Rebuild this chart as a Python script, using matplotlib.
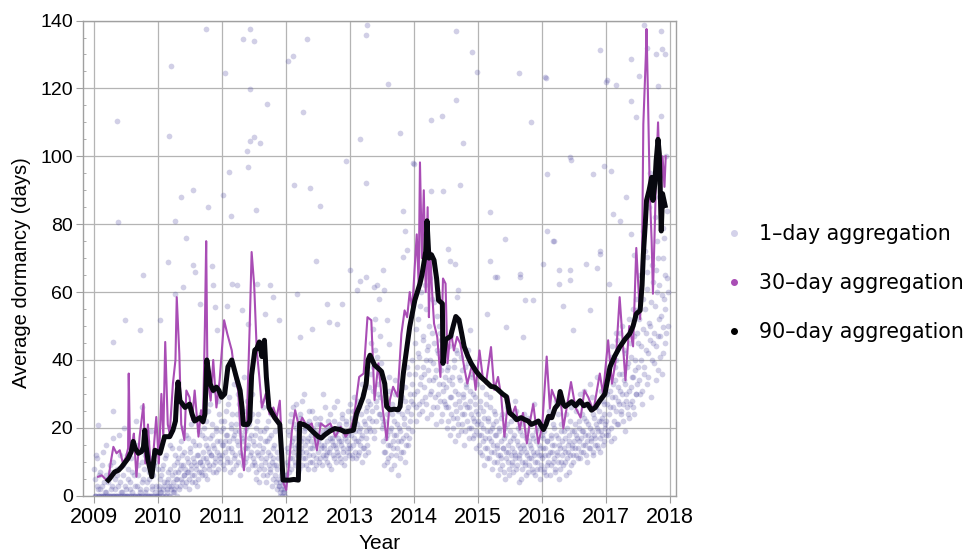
import numpy as np
import matplotlib
matplotlib.use("Agg")
import matplotlib.pyplot as plt
from matplotlib.lines import Line2D
from matplotlib.ticker import MultipleLocator

# 1-day aggregation, one value every ~5 days per calendar year
DAILY_2009 = [8, 0, 12, 3, 0, 6, 0, 2, 0, 9, 0, 4, 0, 15, 1, 0, 5, 0, 7, 0, 3, 0, 10, 0, 2, 0, 6, 0, 18, 0,
              4, 0, 1, 9, 0, 3, 0, 12, 0, 5, 0, 2, 0, 7, 14, 0, 3, 0, 22, 0, 6, 0, 1, 0, 10, 4, 0, 8, 0, 2,
              16, 0, 5, 0, 11, 0, 3, 0, 9, 1, 0, 13, 0]
DAILY_2010 = [0, 3, 1, 6, 0, 2, 9, 4, 0, 12, 1, 5, 3, 0, 8, 2, 14, 4, 1, 7, 3, 10,
              5, 11, 2, 8, 16, 4, 9, 13, 6, 3, 18, 7, 10, 5, 14, 8, 21, 4, 11, 6, 15, 9, 3, 12, 19, 7, 10, 24, 6,
              13, 8, 17, 11, 22, 5, 14, 9, 27, 12, 18, 7, 15, 31, 10, 20, 13, 8, 24, 16, 11, 19]
DAILY_2011 = [12, 20, 8, 16, 25, 10, 18, 14, 29, 7, 21, 13, 17, 33, 11, 19, 9, 24, 15, 27, 6, 18, 12, 22,
              16, 35, 10, 20, 14, 26, 8, 17, 23, 13, 30, 11,
              15, 9, 20, 5, 13, 24, 8, 17, 11, 28, 6, 14, 19, 10, 4, 16, 22, 9, 12, 7, 18, 3, 11, 15, 6, 9, 2, 13, 5,
              3, 1, 6, 0, 4, 2, 1, 5]
DAILY_2012 = [6, 14, 9, 18, 11, 24, 8, 16, 13, 21, 10, 27, 15, 7, 19, 12, 23, 14, 9, 17, 30, 11, 20, 13,
              16, 8, 22, 14, 18, 10, 25, 12, 15, 19, 9, 21,
              13, 17, 11, 23, 15, 9, 19, 14, 26, 12, 16, 10, 20, 13, 24, 8, 17, 15, 22, 11, 18, 14, 28, 12,
              16, 20, 10, 15, 23, 13, 18, 11, 21, 16, 14, 25, 12]
DAILY_2013 = [14, 20, 11, 25, 17, 13, 22, 16, 28, 12, 19, 15, 24, 10, 18, 30, 14, 21, 17, 26, 13, 23,
              32, 19, 45, 25, 38, 17, 52, 28, 22, 41, 30, 58, 24, 35, 20,
              16, 9, 22, 13, 27, 18, 11, 31, 15, 20, 8, 24, 14, 18, 34, 12, 21, 16, 6, 26, 19, 13, 29, 17,
              23, 10, 32, 18, 25, 15, 36, 22, 28, 19, 33]
DAILY_2014 = [30, 45, 22, 38, 52, 27, 41, 33, 60, 25, 47, 36, 29, 55, 40, 23, 44, 34, 64, 31, 48, 26, 39, 57,
              35, 21, 43, 30, 50, 28, 37, 46, 24, 33, 41, 27,
              32, 20, 38, 26, 44, 18, 29, 35, 23, 40, 16, 31, 25, 42, 21, 28, 34, 19, 37, 24, 30, 15, 27, 33,
              22, 39, 17, 26, 31, 20, 36, 23, 18, 29, 14, 25, 21]
DAILY_2015 = [22, 15, 28, 18, 12, 25, 20, 9, 17, 30, 14, 23, 11, 19, 26, 16, 8, 21, 13, 24, 18, 10,
              15, 6, 19, 12, 23, 9, 14, 17, 5, 20, 11, 26, 13, 8, 16, 22, 10, 14, 7, 18, 12, 25, 9, 15, 11, 4,
              19, 13, 8, 21, 14, 10, 17, 6, 12, 23, 9, 15, 11, 18, 7, 13, 27, 10, 16, 8, 20, 12, 5, 14, 9]
DAILY_2016 = [11, 17, 7, 14, 22, 9, 16, 12, 25, 6, 18, 13, 10, 20, 15, 8, 28, 12, 17, 5, 14, 21, 10, 16,
              9, 19, 13, 24, 11, 15, 7, 18, 12, 26, 14, 10,
              16, 21, 12, 18, 27, 14, 20, 11, 17, 24, 13, 19, 31, 15, 22, 10, 18, 26, 14, 20, 16, 29, 12, 23,
              17, 21, 35, 15, 19, 25, 13, 22, 18, 28, 16, 24, 20]
DAILY_2017 = [22, 30, 18, 35, 26, 41, 20, 29, 33, 17, 38, 25, 46, 28, 21, 36, 31, 24, 50, 27, 34, 19, 42, 30,
              26, 39, 23, 45, 32, 28, 55, 35, 24, 40, 30, 48,
              38, 52, 30, 65, 44, 27, 58, 36, 72, 48, 33, 61, 42, 85, 50, 29, 68, 45, 39, 92, 56, 34, 75, 47,
              62, 41, 88, 53, 36, 70, 58, 45, 100, 64, 50]

# second set of daily values, 2.5 days after the first
DAILY_2009B = [0, 5, 0, 11, 2, 0, 7, 0, 3, 0, 13, 0, 1, 6, 0, 4, 0, 9, 0, 2, 0, 17, 0, 5, 0, 8, 0, 3, 0, 12,
               1, 0, 6, 0, 20, 0, 2, 0, 8, 0, 4, 11, 0, 1, 0, 6, 0, 15, 3, 0, 9, 0, 2, 0, 26, 5, 0, 1, 12, 0,
               4, 0, 7, 0, 19, 2, 0, 6, 0, 10, 3, 0, 8]
DAILY_2010B = [2, 0, 5, 1, 8, 0, 3, 11, 0, 4, 2, 7, 0, 15, 3, 6, 1, 9, 2, 12, 5, 0,
               7, 14, 3, 9, 5, 12, 20, 6, 8, 4, 11, 17, 7, 2, 13, 9, 6, 16, 10, 4, 23, 8, 12, 5, 15, 10, 7, 18, 9,
               11, 20, 6, 15, 10, 25, 13, 8, 17, 12, 21, 9, 14, 11, 19, 7, 16, 28, 12, 10, 22, 15]
DAILY_2011B = [15, 9, 22, 13, 18, 11, 27, 16, 10, 20, 14, 24, 8, 18, 12, 21, 16, 30, 10, 19, 13, 23, 17, 9,
               25, 14, 19, 11, 28, 15, 21, 12, 18, 9, 24, 16,
               10, 18, 7, 22, 12, 15, 4, 19, 9, 13, 26, 8, 16, 11, 20, 6, 13, 17, 8, 24, 10, 5, 14, 9, 19, 4,
               8, 11, 3, 0, 4, 2, 7, 1, 3, 0, 6]
DAILY_2012B = [10, 19, 13, 7, 22, 15, 11, 26, 17, 9, 14, 20, 12, 18, 8, 24, 16, 13, 28, 11, 19, 15, 9, 21,
               17, 12, 25, 10, 16, 14, 20, 8, 23, 17, 11, 18,
               16, 10, 21, 14, 18, 12, 30, 15, 11, 19, 13, 22, 9, 17, 14, 20, 16, 12, 26, 15, 10, 19, 13, 17,
               21, 11, 16, 24, 14, 19, 9, 17, 22, 13, 18, 15, 27]
DAILY_2013B = [18, 12, 23, 15, 29, 19, 11, 21, 16, 26, 13, 20, 17, 33, 14, 22, 12, 19, 25, 15, 28, 20,
               27, 36, 22, 49, 31, 19, 43, 26, 62, 33, 24, 47, 29, 39, 23,
               21, 13, 28, 17, 10, 24, 15, 35, 19, 12, 27, 16, 22, 9, 30, 18, 14, 25, 20, 11, 33, 16, 24, 13,
               21, 28, 15, 38, 20, 26, 17, 30, 24, 40, 27]
DAILY_2014B = [36, 26, 49, 31, 42, 24, 56, 35, 28, 46, 38, 32, 62, 27, 43, 37, 50, 30, 40, 24, 58, 34, 45, 29,
               37, 53, 26, 42, 33, 48, 22, 39, 31, 44, 28, 35,
               26, 37, 22, 34, 29, 47, 24, 33, 20, 38, 27, 43, 23, 30, 18, 35, 26, 41, 21, 29, 24, 38, 19, 32,
               26, 43, 20, 28, 24, 35, 17, 30, 22, 27, 19, 33, 24]
DAILY_2015B = [18, 26, 13, 21, 32, 16, 23, 14, 27, 19, 11, 22, 17, 29, 13, 20, 15, 25, 10, 18, 22, 14,
               12, 20, 8, 16, 11, 24, 14, 7, 18, 13, 21, 10, 15, 6, 19, 12, 9, 17, 13, 28, 11, 8, 16, 20, 12,
               14, 5, 18, 10, 15, 24, 9, 13, 19, 7, 16, 11, 21, 14, 8, 17, 12, 6, 19, 13, 10, 22, 15, 8, 12, 18]
DAILY_2016B = [14, 8, 19, 12, 6, 16, 10, 23, 13, 17, 9, 15, 21, 11, 7, 18, 13, 24, 10, 15, 8, 19, 12, 27,
               14, 10, 17, 6, 20, 13, 16, 22, 9, 15, 19, 12,
               19, 14, 25, 17, 11, 22, 16, 30, 13, 19, 15, 23, 18, 12, 27, 16, 21, 14, 33, 17, 19, 13, 24, 18,
               15, 26, 20, 14, 22, 17, 31, 19, 23, 15, 27, 21, 18]
DAILY_2017B = [27, 19, 37, 24, 31, 16, 44, 26, 22, 34, 29, 40, 21, 32, 27, 48, 25, 36, 30, 22, 43, 33, 28, 38,
               24, 52, 31, 27, 41, 35, 26, 47, 37, 30, 58, 33,
               45, 34, 60, 40, 31, 78, 49, 38, 55, 43, 66, 35, 51, 46, 95, 57, 40, 63, 48, 82, 44, 60, 37, 70,
               52, 47, 96, 59, 42, 76, 55, 65, 48, 84, 60]

# scattered high days (year, value)
OUTLIER_X = [2009.06, 2009.3, 2009.35, 2009.38, 2009.48, 2009.71, 2009.77, 2010.17, 2010.2, 2010.26,
             2010.35, 2010.43, 2010.55, 2010.74, 2010.78, 2011.02, 2011.04, 2011.1, 2011.14, 2011.32,
             2011.39, 2011.41, 2011.43, 2011.44, 2011.44, 2011.49, 2011.49, 2011.53, 2011.59, 2011.7,
             2012.03, 2012.1, 2012.12, 2012.26, 2012.32, 2012.37, 2012.53, 2012.93, 2013.15, 2013.25,
             2013.25, 2013.26, 2013.59, 2013.78, 2013.98, 2014.27, 2014.44, 2014.65, 2014.66, 2014.77,
             2014.91, 2014.98, 2015.64, 2015.83, 2016.05, 2016.45, 2016.9, 2017.02, 2017.39, 2017.59,
             2017.87, 2017.92,
             2009.3, 2010.03, 2010.16, 2010.26, 2010.39, 2010.55, 2010.58, 2010.66, 2010.84, 2010.86,
             2010.89, 2010.92, 2011.07, 2011.15, 2011.23, 2011.31, 2011.41, 2011.54, 2011.67, 2011.75,
             2011.88, 2011.8, 2012.17, 2012.22, 2012.4, 2012.46, 2012.64, 2012.67, 2012.8, 2012.87,
             2013.0, 2013.11, 2013.16, 2013.24, 2013.37, 2013.52, 2013.83, 2014.56, 2014.69, 2014.87,
             2015.13, 2015.29, 2015.44, 2015.65, 2015.7, 2015.86, 2016.01, 2016.27, 2016.43, 2016.48,
             2016.69, 2016.74, 2016.9, 2017.05, 2017.16, 2017.47, 2017.63, 2017.78, 2017.89,
             2013.83, 2013.86, 2013.88, 2013.99, 2014.27, 2014.45, 2014.53, 2014.64, 2014.72, 2014.67,
             2015.18, 2015.18, 2015.26, 2015.42, 2015.65, 2015.73, 2016.07, 2016.18, 2016.33, 2013.58,
             2013.6, 2013.53,
             2016.06, 2016.07, 2016.43, 2016.8, 2017.0, 2017.16, 2016.97, 2017.08, 2017.47, 2017.39,
             2017.52, 2017.63, 2017.78, 2017.86, 2017.86, 2017.81, 2017.31, 2017.21, 2017.1, 2016.9,
             2016.85, 2017.39, 2017.44, 2017.83, 2017.89, 2016.17, 2016.27, 2016.43]
OUTLIER_Y = [20.8, 25, 110.3, 80.6, 51.7, 48.7, 65, 106, 126.7, 81,
             88, 76, 90, 137.5, 85, 88.7, 124.6, 95.4, 82.4, 134.6,
             101.5, 96.8, 104.5, 137.5, 119.9, 134, 105.7, 84.3, 103.8, 115.4,
             128, 129.6, 91.4, 113, 134.6, 90.8, 85.4, 98.5, 105, 135.8,
             92, 138.7, 121.3, 107, 97.9, 110.8, 112, 116.5, 136.9, 103.8,
             130.6, 124.8, 124.4, 110, 123.3, 99, 131.2, 122.5, 128.6, 138.6,
             131.6, 130,
             45.3, 51.7, 68.8, 59.5, 61.5, 68, 66, 56.6, 67.8, 62,
             55.6, 48.7, 56, 62.5, 62, 54.6, 50.7, 62.5, 53.6, 62,
             51.7, 58.5, 59.5, 46.8, 49.2, 69.3, 56.6, 51.2, 50.7, 56.6,
             66.4, 60.5, 63.4, 64.4, 61.5, 66.4, 70.3, 69.3, 60.5, 48.7,
             53.6, 64.4, 49.7, 65.4, 46.8, 57.6, 68.4, 62.5, 66.4, 48.7,
             68.4, 54.6, 71.3, 62.5, 47.8, 54.6, 70.3, 66.4, 49.7,
             84, 78, 72.3, 97.7, 89.9, 89.9, 72.8, 68.4, 91.4, 58.5,
             69.3, 83.5, 64.4, 75.7, 64.4, 57.6, 78, 75, 56, 51.7,
             44.8, 60.5,
             123, 94.8, 99.7, 94.8, 122, 121, 97, 95.8, 111.5, 116.4,
             123.7, 132, 130, 137, 112, 120.8, 88, 81, 83, 72,
             67, 77, 71, 88, 79, 75, 66.5, 63.5]

# 30-day aggregation
MONTH_X = [2009.06, 2009.12, 2009.17, 2009.22, 2009.26, 2009.3, 2009.35, 2009.4, 2009.45, 2009.5,
           2009.53, 2009.54, 2009.56, 2009.6, 2009.62, 2009.66, 2009.71, 2009.77, 2009.8, 2009.84,
           2009.89, 2009.92, 2009.97, 2010.01, 2010.05, 2010.08, 2010.11, 2010.15, 2010.18, 2010.23,
           2010.27, 2010.29, 2010.33, 2010.36, 2010.41, 2010.44, 2010.49, 2010.53, 2010.57, 2010.63,
           2010.67, 2010.7, 2010.73, 2010.75, 2010.77, 2010.82, 2010.86, 2010.91, 2010.96, 2011.03,
           2011.08, 2011.15, 2011.2, 2011.25, 2011.3, 2011.34, 2011.39, 2011.43, 2011.46, 2011.5,
           2011.54, 2011.58, 2011.62, 2011.68, 2011.74, 2011.8, 2011.85, 2011.9, 2011.96, 2012.0,
           2012.04, 2012.09, 2012.14, 2012.2, 2012.25, 2012.33, 2012.4, 2012.48, 2012.54, 2012.61,
           2012.69, 2012.77, 2012.85, 2012.93, 2013.0, 2013.06, 2013.14, 2013.21, 2013.27, 2013.33,
           2013.38, 2013.44, 2013.51, 2013.57, 2013.62, 2013.67, 2013.74, 2013.8, 2013.85, 2013.89,
           2013.93, 2013.97, 2014.01, 2014.04, 2014.07, 2014.09, 2014.12, 2014.15, 2014.18, 2014.21,
           2014.23, 2014.25, 2014.28, 2014.31, 2014.36, 2014.41, 2014.45, 2014.49, 2014.52, 2014.57,
           2014.62, 2014.67, 2014.72, 2014.78, 2014.83, 2014.91, 2014.96, 2015.02, 2015.07, 2015.12,
           2015.2, 2015.25, 2015.31, 2015.36, 2015.41, 2015.47, 2015.52, 2015.58, 2015.65, 2015.7,
           2015.76, 2015.81, 2015.86, 2015.91, 2015.94, 2016.0, 2016.07, 2016.12, 2016.15, 2016.23,
           2016.28, 2016.33, 2016.36, 2016.45, 2016.52, 2016.6, 2016.66, 2016.72, 2016.8, 2016.9,
           2016.95, 2017.03, 2017.09, 2017.15, 2017.21, 2017.3, 2017.36, 2017.42, 2017.47, 2017.53,
           2017.56, 2017.58, 2017.6, 2017.62, 2017.63, 2017.65, 2017.68, 2017.71, 2017.73, 2017.76,
           2017.78, 2017.81, 2017.83, 2017.85, 2017.88, 2017.91, 2017.93]
MONTH_Y = [5.6, 6, 5, 4.6, 10, 14.4, 12.5, 13.4, 9.5, 11.5,
           14, 36, 13.4, 16, 18.3, 5.6, 17.4, 27, 9.5, 21,
           6.6, 11.5, 23.2, 9.5, 30, 17.4, 45.3, 21, 18.3, 33,
           40, 58.5, 41.9, 21, 16.4, 31, 29, 22.3, 31, 17.4,
           25.2, 21.3, 50, 75, 35, 28, 40, 26, 34, 51.7,
           47.7, 42.8, 35, 31, 13.4, 7.5, 25.2, 50, 71.8, 62,
           42.8, 35, 26, 30, 24, 26, 23, 28, 3.6, 1.7,
           8.5, 19.3, 25.2, 20.3, 23, 20.3, 21.3, 13.4, 21.3, 20.3,
           21.3, 17.4, 20.3, 17.4, 19.3, 23.2, 35, 36, 52.6, 51.7,
           28.2, 39, 25.3, 16.4, 28.2, 32.1, 29.2, 47.7, 54.6, 52.6,
           60, 55, 68, 77, 62, 98.2, 70, 90, 60, 85,
           52.6, 72, 60, 50.7, 46.8, 35, 64, 62.5, 39, 48.7,
           42.8, 46.8, 44.8, 38, 33, 39, 31.2, 42.8, 35, 33,
           43.8, 31.2, 35, 29.2, 17.4, 29.2, 23.4, 26.3, 19.5, 24.4,
           15.4, 22, 27, 19.5, 15.4, 20.5, 41, 25.7, 31.2, 27.3,
           30.2, 19.8, 23.4, 33.5, 26, 23, 31, 29, 25, 36,
           30, 45.8, 33, 40, 58.5, 34, 50, 44, 73, 52,
           70, 109.5, 120, 130, 137.5, 120, 90, 75, 59.5, 80,
           95, 110, 98, 85, 100, 91, 100]

# 90-day aggregation
QUARTER_X = [2009.22, 2009.24, 2009.32, 2009.38, 2009.43, 2009.53, 2009.58, 2009.61, 2009.64, 2009.69,
             2009.74, 2009.77, 2009.79, 2009.81, 2009.84, 2009.87, 2009.9, 2009.95, 2010.03, 2010.1,
             2010.18, 2010.23, 2010.27, 2010.29, 2010.31, 2010.34, 2010.38, 2010.42, 2010.49, 2010.53,
             2010.57, 2010.65, 2010.7, 2010.73, 2010.76, 2010.79, 2010.81, 2010.86, 2010.91, 2010.95,
             2010.99, 2011.04, 2011.09, 2011.15, 2011.22, 2011.28, 2011.31, 2011.33, 2011.4, 2011.43,
             2011.46, 2011.51, 2011.54, 2011.58, 2011.62, 2011.66, 2011.69, 2011.73, 2011.82, 2011.9,
             2011.93, 2011.95, 2012.05, 2012.12, 2012.19, 2012.21, 2012.27, 2012.34, 2012.42, 2012.5,
             2012.55, 2012.6, 2012.68, 2012.76, 2012.84, 2012.92, 2012.98, 2013.05, 2013.1, 2013.15,
             2013.2, 2013.25, 2013.28, 2013.31, 2013.38, 2013.44, 2013.49, 2013.54, 2013.57, 2013.62,
             2013.69, 2013.75, 2013.78, 2013.83, 2013.88, 2013.93, 2014.01, 2014.05, 2014.09, 2014.12,
             2014.15, 2014.18, 2014.2, 2014.23, 2014.27, 2014.31, 2014.35, 2014.38, 2014.44, 2014.45,
             2014.49, 2014.57, 2014.61, 2014.65, 2014.7, 2014.74, 2014.78, 2014.84, 2014.89, 2014.97,
             2015.04, 2015.1, 2015.2, 2015.26, 2015.31, 2015.38, 2015.44, 2015.49, 2015.55, 2015.6,
             2015.67, 2015.73, 2015.78, 2015.83, 2015.89, 2015.94, 2016.02, 2016.06, 2016.1, 2016.15,
             2016.2, 2016.25, 2016.28, 2016.33, 2016.36, 2016.41, 2016.46, 2016.52, 2016.59, 2016.65,
             2016.71, 2016.77, 2016.83, 2016.9, 2016.98, 2017.06, 2017.13, 2017.21, 2017.29, 2017.37,
             2017.42, 2017.47, 2017.53, 2017.56, 2017.58, 2017.61, 2017.63, 2017.67, 2017.71, 2017.73,
             2017.76, 2017.78, 2017.81, 2017.83, 2017.86, 2017.88, 2017.92]
QUARTER_Y = [4.6, 5, 7, 7.5, 8.5, 11, 13, 16, 14, 12.5,
             13, 14.4, 19.3, 15, 10.5, 8, 5.6, 13.4, 12.5, 17.4,
             17.4, 19.3, 22, 29, 33.5, 28, 27, 26, 27, 24,
             22, 23, 21.8, 24, 40, 36, 33, 31, 32, 31,
             29, 30, 38, 40, 35, 31, 26, 21, 21, 22,
             35.5, 42.9, 43.3, 45.3, 41, 45.8, 35, 26, 23, 21,
             12, 4.6, 4.6, 4.8, 4.6, 21.3, 21, 20.3, 18.8, 17.4,
             17, 17.9, 19, 19.8, 19.5, 18.8, 19, 19.3, 24.2, 26.5,
             29, 33, 40, 41.4, 38.5, 37.5, 36.6, 33, 26.3, 25.3,
             25.5, 25.3, 26.3, 36, 43, 49.8, 57.6, 60, 62.5, 65,
             68.4, 72, 81, 70, 71, 69.4, 64, 57.6, 56.6, 39,
             46, 47, 50, 52.8, 51.8, 48, 44, 41, 39, 36.6,
             35, 34, 32.2, 32, 31.2, 30, 29.2, 24.4, 23.5, 22.4,
             23, 22.4, 22, 21, 21.5, 22, 19.5, 21, 23.4, 23,
             25.8, 27, 30.7, 27, 26.3, 27, 27.7, 26.5, 28, 26.5,
             27, 25.2, 26, 28, 30, 38, 41, 43.8, 46, 47.8,
             50, 53.6, 54.6, 62, 71, 80, 87, 90, 93.8, 87,
             92, 98.7, 105, 100.7, 78, 89, 85.5]

YEARS = [2009, 2010, 2011, 2012, 2013, 2014, 2015, 2016, 2017]
DAILY = [DAILY_2009, DAILY_2010, DAILY_2011, DAILY_2012, DAILY_2013,
         DAILY_2014, DAILY_2015, DAILY_2016, DAILY_2017]
DAILY_B = [DAILY_2009B, DAILY_2010B, DAILY_2011B, DAILY_2012B, DAILY_2013B,
           DAILY_2014B, DAILY_2015B, DAILY_2016B, DAILY_2017B]
LABELS = ["1\u2013day aggregation", "30\u2013day aggregation", "90\u2013day aggregation"]

DOT_COLOUR = "#5551a6"
MONTH_COLOUR = "#a94db5"
QUARTER_COLOUR = "#08080f"
GRID_COLOUR = "#b4b4b4"

plt.rcParams['font.family'] = ['Liberation Sans', 'DejaVu Sans']

fig = plt.figure(figsize=(9.69, 5.55), dpi=100)
ax = fig.add_axes([0.0853, 0.1068, 0.6123, 0.8562])

# daily points, every 5 days in each year, second set shifted by 2.5 days
for year, vals, vals_b in zip(YEARS, DAILY, DAILY_B):
    xs = year + np.arange(len(vals)) * 5 / 365.0
    xs_b = year + (np.arange(len(vals_b)) * 5 + 2.5) / 365.0
    ax.scatter(xs, vals, s=17, color=DOT_COLOUR, alpha=0.27, linewidths=0, zorder=2)
    ax.scatter(xs_b, vals_b, s=17, color=DOT_COLOUR, alpha=0.27, linewidths=0, zorder=2)
ax.scatter(OUTLIER_X, OUTLIER_Y, s=17, color=DOT_COLOUR, alpha=0.27, linewidths=0, zorder=2)

ax.plot(MONTH_X, MONTH_Y, color=MONTH_COLOUR, lw=1.5, zorder=3)
ax.plot(QUARTER_X, QUARTER_Y, color=QUARTER_COLOUR, lw=3.6, zorder=4, solid_joinstyle="round")

ax.set_xlim(2008.82, 2018.09)
ax.set_ylim(0, 140)
ax.set_xticks(range(2009, 2019))
ax.set_yticks(range(0, 141, 20))
ax.yaxis.set_minor_locator(MultipleLocator(5))
ax.grid(True, color=GRID_COLOUR, lw=0.9)
ax.set_axisbelow(True)
for sp in ax.spines.values():
    sp.set_color("#a0a0a0")
    sp.set_linewidth(1.0)
ax.tick_params(which="major", direction="out", length=5, width=0.8, color="#a0a0a0",
               labelsize=14, pad=2)
ax.tick_params(which="minor", direction="in", length=2, width=0.6, color="#a0a0a0")
ax.tick_params(axis="x", labelsize=15.5, pad=3)

ax.set_xlabel("Year", fontsize=15)
ax.set_ylabel("Average dormancy (days)", fontsize=14.5)
ax.xaxis.set_label_coords(0.5, -0.08)
ax.yaxis.set_label_coords(-0.087, 0.47)

handles = [
    Line2D([], [], marker="o", ls="none", color="#d4d2ea", markersize=4),
    Line2D([], [], marker="o", ls="none", color=MONTH_COLOUR, markersize=4),
    Line2D([], [], marker="o", ls="none", color="black", markersize=4),
]
fig.legend(handles, LABELS, loc="center left", bbox_to_anchor=(0.736, 0.49), frameon=False,
           handlelength=1.0, handletextpad=0.75, labelspacing=1.4, borderpad=0,
           prop={"family": "DejaVu Sans", "size": 14.8})

fig.savefig("out.png", dpi=100)
